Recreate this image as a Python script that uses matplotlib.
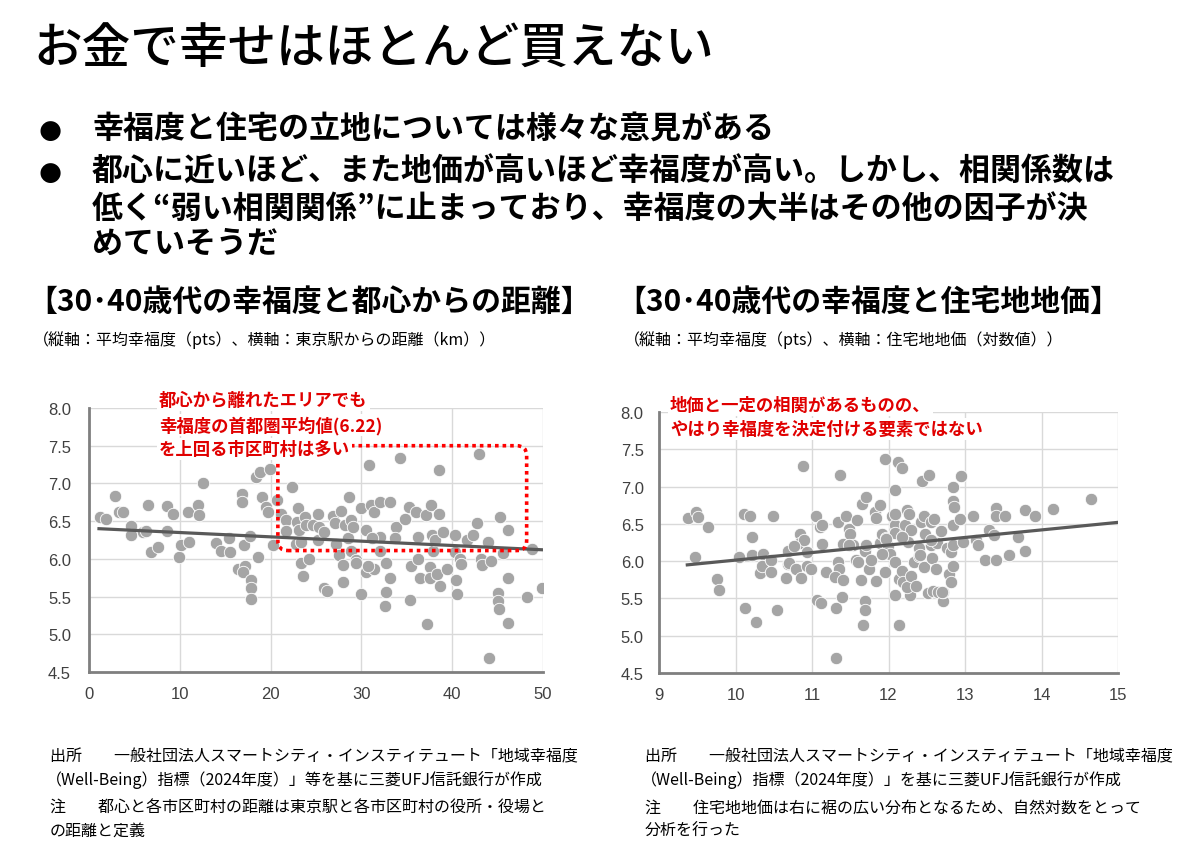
import matplotlib
matplotlib.use("Agg")
import matplotlib.pyplot as plt
from matplotlib.patches import FancyBboxPatch

# left chart: distance from Tokyo station (km) vs. average happiness
dist_km = [1.2, 1.9, 2.9, 3.3, 3.7, 4.6, 4.6, 5.9, 6.3, 6.5, 6.8, 7.6, 8.6, 8.6, 9.3, 9.9,
           10.1, 10.9, 11.0, 12.0, 12.1, 12.6, 14.0, 14.5, 15.4, 15.5, 16.4, 16.9, 16.9,
           17.1, 17.2, 17.0, 17.7, 17.8, 17.8, 17.8, 18.4, 18.8, 19.1, 19.5, 19.7, 19.9,
           18.6, 20.3, 20.7, 21.2, 21.7, 21.7, 22.4, 22.9, 23.0, 23.1, 22.8, 23.4, 23.4,
           23.6, 23.8, 23.9, 24.2, 24.7, 25.2, 25.3, 25.2, 25.9, 25.9, 26.2, 26.9, 27.1,
           27.2, 27.5, 27.7, 28.0, 28.0, 28.2, 28.5, 28.6, 28.9, 29.1, 28.8, 29.4, 29.4,
           30.0, 30.0, 30.5, 30.5, 30.8, 31.1, 31.4, 31.4, 32.0, 32.0, 32.0, 32.7, 32.7,
           32.6, 33.1, 33.2, 33.8, 33.7, 34.2, 34.8, 35.2, 35.3, 35.5, 36.0, 36.2, 36.2,
           36.5, 37.1, 37.2, 37.5, 37.5, 37.7, 37.8, 37.9, 38.1, 38.3, 38.5, 38.5, 38.7,
           39.0, 39.4, 40.3, 40.3, 40.4, 40.5, 40.9, 41.0, 41.6, 42.3, 42.7, 42.9, 43.2,
           43.3, 43.9, 44.0, 44.3, 45.0, 45.0, 45.2, 45.3, 45.6, 46.1, 46.1, 46.1, 48.2,
           48.8, 49.9, 31.2, 30.7]
happy_dist = [6.55, 6.53, 6.83, 6.62, 6.62, 6.44, 6.31, 6.35, 6.37, 6.72, 6.09, 6.16, 6.37,
              6.70, 6.60, 6.02, 6.18, 6.62, 6.22, 6.72, 6.58, 7.01, 6.21, 6.10, 6.27, 6.09,
              5.87, 6.86, 6.75, 6.18, 5.90, 5.83, 6.30, 5.72, 5.61, 5.47, 7.08, 7.15, 6.82,
              6.69, 6.62, 7.19, 6.03, 6.19, 6.78, 6.60, 6.52, 6.37, 6.95, 6.49, 6.67, 6.38,
              6.20, 6.22, 5.94, 5.77, 6.56, 6.45, 6.00, 6.45, 6.60, 6.42, 6.25, 6.36, 5.61,
              5.58, 6.57, 6.47, 6.20, 6.05, 6.64, 5.92, 5.69, 6.45, 6.27, 6.82, 6.51, 6.42,
              6.11, 5.98, 5.94, 6.67, 5.54, 6.38, 5.83, 7.25, 6.71, 6.62, 5.87, 6.76, 6.29,
              6.11, 5.94, 5.56, 5.38, 5.74, 6.75, 6.42, 6.27, 7.34, 6.53, 6.69, 5.46, 5.91,
              6.62, 6.29, 6.00, 5.75, 6.58, 5.13, 5.89, 5.74, 6.71, 6.31, 6.11, 6.25, 5.80,
              7.18, 6.60, 5.64, 6.36, 5.87, 6.31, 6.09, 5.72, 5.54, 6.00, 5.93, 6.25, 6.31,
              6.47, 7.39, 6.00, 5.92, 6.22, 4.69, 5.97, 5.55, 5.44, 5.34, 6.56, 6.08, 5.75,
              6.38, 5.15, 5.49, 6.13, 5.62, 6.27, 5.91]
trend_dist_x = [1.1, 50.0]
trend_dist_y = [6.40, 6.12]

# right chart: log residential land price vs. average happiness
log_price = [9.38, 9.48, 9.51, 9.47, 9.64, 9.76, 9.78, 10.04, 10.11, 10.19, 10.12, 10.22,
             10.21, 10.27, 10.36, 10.32, 10.35, 10.47, 10.47, 10.49, 10.54, 10.69, 10.69,
             10.66, 10.70, 10.79, 10.84, 10.85, 10.84, 10.88, 10.89, 10.93, 10.93, 10.99,
             11.05, 11.07, 11.12, 11.10, 11.13, 11.13, 11.18, 11.32, 11.32, 11.34, 11.34,
             11.35, 11.30, 11.37, 11.39, 11.40, 11.41, 11.45, 11.49, 11.50, 11.54, 11.57,
             11.59, 11.64, 11.67, 11.69, 11.69, 11.66, 11.70, 11.69, 11.71, 11.74, 11.77,
             11.82, 11.84, 11.84, 11.89, 11.89, 11.91, 11.93, 11.95, 11.95, 11.97, 11.99,
             12.02, 12.04, 12.08, 12.08, 12.09, 12.09, 12.08, 12.09, 12.13, 12.14, 12.14,
             12.18, 12.18, 12.19, 12.21, 12.22, 12.24, 12.27, 12.25, 12.28, 12.24, 12.29,
             12.29, 12.33, 12.36, 12.40, 12.40, 12.43, 12.44, 12.46, 12.47, 12.48, 12.52,
             12.53, 12.55, 12.56, 12.57, 12.58, 12.59, 12.62, 12.63, 12.65, 12.68, 12.71,
             12.71, 12.76, 12.79, 12.82, 12.82, 12.84, 12.84, 12.86, 12.84, 12.84, 12.84,
             12.94, 12.95, 12.97, 13.10, 13.14, 13.17, 13.26, 13.31, 13.38, 13.41, 13.41,
             13.41, 13.52, 13.58, 13.69, 13.78, 13.79, 13.92, 14.15, 14.65, 10.76, 11.49,
             12.17, 11.60, 11.91, 12.41, 12.56, 11.97, 12.70]
happy_price = [6.58, 6.66, 6.59, 6.06, 6.46, 5.76, 5.61, 6.05, 6.63, 6.61, 5.37, 6.32,
               6.08, 5.19, 6.10, 5.84, 5.93, 6.01, 5.86, 6.60, 5.34, 5.96, 6.14, 5.78,
               5.97, 5.90, 6.37, 5.78, 6.25, 7.27, 6.29, 6.12, 5.93, 5.90, 6.60, 5.48,
               5.44, 6.46, 6.49, 6.23, 5.86, 5.37, 4.70, 6.53, 5.99, 5.90, 5.79, 7.16,
               5.52, 6.23, 5.75, 6.61, 6.43, 6.37, 6.22, 6.01, 6.55, 5.75, 5.14, 5.46,
               5.35, 6.76, 6.86, 6.13, 6.21, 5.90, 6.01, 6.66, 6.58, 5.73, 6.25, 6.75,
               6.37, 6.10, 7.37, 5.86, 6.31, 6.20, 6.10, 6.61, 6.95, 6.48, 6.63, 6.38,
               5.55, 5.99, 7.33, 5.15, 5.76, 7.25, 5.87, 5.72, 6.38, 6.49, 6.68, 6.63,
               6.26, 5.54, 5.65, 5.80, 6.42, 5.99, 5.67, 6.07, 6.17, 6.53, 7.07, 6.60,
               5.92, 6.37, 5.57, 7.15, 6.53, 6.22, 6.04, 5.60, 6.57, 5.89, 6.25, 5.58,
               6.41, 5.46, 5.58, 6.17, 5.83, 6.12, 5.72, 6.99, 6.80, 6.72, 6.49, 5.93,
               6.21, 6.57, 7.14, 6.26, 6.60, 6.29, 6.21, 6.02, 6.42, 6.35, 6.71, 6.60,
               6.01, 6.60, 6.08, 6.33, 6.68, 6.14, 6.61, 6.70, 6.83, 6.20, 6.22, 6.33,
               5.99, 6.10, 6.08, 6.28, 6.30, 5.58]
trend_price_x = [9.37, 15.0]
trend_price_y = [5.95, 6.52]

dist_ticks = [0, 10, 20, 30, 40, 50]
price_ticks = [9, 10, 11, 12, 13, 14, 15]
happy_ticks = [4.5, 5.0, 5.5, 6.0, 6.5, 7.0, 7.5, 8.0]

JP = ['Noto Sans CJK JP', 'DejaVu Sans']
W, H = 1200, 853
RED = '#e00000'

fig = plt.figure(figsize=(W / 100, H / 100), dpi=100)


def ftext(x, y, s, **kw):
    kw.setdefault('family', JP)
    return fig.text(x / W, 1 - y / H, s, ha='left', va='center', **kw)


def make_axes(rect, xs, ys, lx, ly, xticks, xlim, ypad, xpad):
    ax = fig.add_axes(rect)
    ax.scatter(xs, ys, s=80, color='#a5a5a5', edgecolors='white', linewidths=0.6, zorder=3)
    ax.plot(lx, ly, color='#595959', lw=2.3, zorder=4)
    ax.set_xlim(xlim)
    ax.set_ylim(4.5, 8.0)
    ax.set_xticks(xticks)
    ax.set_yticks(happy_ticks)
    ax.set_yticklabels([f'{t:.1f}' for t in happy_ticks])
    ax.grid(True, color='#d9d9d9', lw=1.0, zorder=0)
    ax.set_axisbelow(True)
    for side in ['top', 'right']:
        ax.spines[side].set_visible(False)
    for side in ['left', 'bottom']:
        ax.spines[side].set_color('#7f7f7f')
        ax.spines[side].set_linewidth(2.0)
    ax.tick_params(axis='y', length=0, pad=ypad, labelsize=12, labelcolor='#404040')
    ax.tick_params(axis='x', length=0, pad=xpad, labelsize=12, labelcolor='#404040')
    for lab in ax.get_xticklabels() + ax.get_yticklabels():
        lab.set_family('Liberation Sans')
    return ax


ax1 = make_axes([89 / W, 1 - 673 / H, 454 / W, 264 / H], dist_km, happy_dist,
                trend_dist_x, trend_dist_y, dist_ticks, (0, 50), 13, 10)
ax2 = make_axes([659 / W, 1 - 674 / H, 459 / W, 261 / H], log_price, happy_price,
                trend_price_x, trend_price_y, price_ticks, (9, 15), 11, 10)

# red dotted box on the left chart
box = FancyBboxPatch((20.8, 6.11), 48.2 - 20.8, 7.5 - 6.11,
                     boxstyle='round,pad=0,rounding_size=1.1', mutation_aspect=0.12,
                     fill=False, edgecolor='#ff0000', lw=2.6, linestyle=(0, (1, 1.1)),
                     zorder=5, clip_on=False)
ax1.add_patch(box)

# title and bullets
ftext(33, 50, 'お金で幸せはほとんど買えない', fontsize=35, fontweight='medium')
ftext(38, 131, '●', fontsize=19, family='DejaVu Sans')
ftext(38, 173, '●', fontsize=19, family='DejaVu Sans')
ftext(92, 130, '幸福度と住宅の立地については様々な意見がある', fontsize=22.3, fontweight='bold')
ftext(92, 172, '都心に近いほど、また地価が高いほど幸福度が高い。しかし、相関係数は',
      fontsize=22.3, fontweight='bold')
ftext(92, 209, '低く“弱い相関関係”に止まっており、幸福度の大半はその他の因子が決',
      fontsize=22.3, fontweight='bold')
ftext(92, 244, 'めていそうだ', fontsize=22.3, fontweight='bold')

# section headers
ftext(27, 302, '【30･40歳代の幸福度と都心からの距離】', fontsize=21.5, fontweight='bold')
ftext(616, 302, '【30･40歳代の幸福度と住宅地地価】', fontsize=21.5, fontweight='bold')
ftext(33, 340, '（縦軸：平均幸福度（pts）、横軸：東京駅からの距離（km））', fontsize=11.5)
ftext(624, 340, '（縦軸：平均幸福度（pts）、横軸：住宅地地価（対数値））', fontsize=11.5)

# red annotations
note_box = dict(facecolor='white', edgecolor='none', pad=1.5)
for y, s in [(401, '都心から離れたエリアでも'), (426, '幸福度の首都圏平均値(6.22)'),
             (450, 'を上回る市区町村は多い')]:
    t = ftext(159, y, s, fontsize=12.5, fontweight='bold', color=RED, bbox=note_box)
    t.set_zorder(10)
for y, s in [(406, '地価と一定の相関があるものの、'), (430, 'やはり幸福度を決定付ける要素ではない')]:
    t = ftext(670, y, s, fontsize=12.5, fontweight='bold', color=RED, bbox=note_box)
    t.set_zorder(10)

# footnotes
src = '出所　　一般社団法人スマートシティ・インスティテュート「地域幸福度'
ftext(50, 757, src, fontsize=11.5)
ftext(46, 780, '（Well-Being）指標（2024年度）」等を基に三菱UFJ信託銀行が作成', fontsize=11.5)
ftext(50, 808, '注　　都心と各市区町村の距離は東京駅と各市区町村の役所・役場と', fontsize=11.5)
ftext(50, 831, 'の距離と定義', fontsize=11.5)
ftext(645, 757, src, fontsize=11.5)
ftext(641, 780, '（Well-Being）指標（2024年度）」を基に三菱UFJ信託銀行が作成', fontsize=11.5)
ftext(645, 808, '注　　住宅地地価は右に裾の広い分布となるため、自然対数をとって', fontsize=11.5)
ftext(645, 831, '分析を行った', fontsize=11.5)

fig.savefig('out.png', dpi=100)
